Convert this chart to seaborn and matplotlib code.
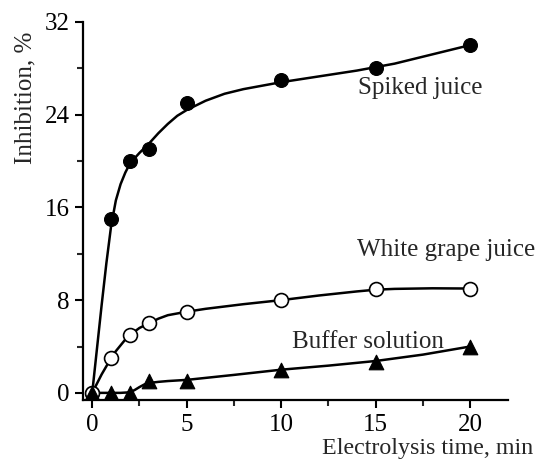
import numpy as np
import pandas as pd
import matplotlib
matplotlib.use("Agg")
import matplotlib.pyplot as plt
import seaborn as sns

sns.set_style("ticks")
plt.rcParams['font.family'] = ['Liberation Serif', 'DejaVu Serif']

# measured points
time_min = [0, 1, 2, 3, 5, 10, 15, 20]
spiked = [0, 15, 20, 21, 25, 27, 28, 30]
white = [0, 3, 5, 6, 7, 8, 9, 9]
buffer_sol = [0, 0, 0, 1, 1, 2, 2.7, 4]

# fitted curves
spiked_curve_x = [0, 0.25, 0.5, 0.75, 1, 1.25, 1.5, 1.75, 2, 2.5, 3, 3.5, 4, 4.5, 5,
                  6, 7, 8, 9, 10, 12, 14, 16, 18, 20]
spiked_curve_y = [0, 3.8, 7.6, 11.2, 14.4, 16.6, 18.0, 19.0, 19.8, 20.7, 21.5, 22.4, 23.2, 23.9, 24.4,
                  25.2, 25.8, 26.2, 26.5, 26.8, 27.3, 27.8, 28.4, 29.2, 30.0]
white_curve_x = [0, 0.25, 0.5, 0.75, 1, 1.25, 1.5, 1.75, 2, 2.5, 3, 3.5, 4, 5, 6, 8,
                 10, 12, 14, 15, 16, 18, 20]
white_curve_y = [0, 0.8, 1.6, 2.3, 3.0, 3.6, 4.1, 4.6, 5.0, 5.6, 6.0, 6.4, 6.7, 7.0, 7.25, 7.65,
                 8.0, 8.4, 8.75, 8.9, 8.97, 9.02, 9.0]
buffer_curve_x = [0, 1, 1.5, 2, 2.25, 2.5, 2.75, 3, 3.5, 4, 5, 7.5, 10, 12.5, 15, 17.5, 20]
buffer_curve_y = [0, 0, 0, 0.05, 0.25, 0.5, 0.72, 0.85, 0.95, 1.02, 1.12, 1.55, 2.0, 2.35, 2.75, 3.3, 4.0]

fig = plt.figure(figsize=(5.41, 4.66), dpi=100)
ax = fig.add_axes([0.153, 0.142, 0.786, 0.811])

for cx, cy in [(spiked_curve_x, spiked_curve_y),
               (white_curve_x, white_curve_y),
               (buffer_curve_x, buffer_curve_y)]:
    sns.lineplot(x=cx, y=cy, ax=ax, color='black', linewidth=1.8, sort=False)

sns.scatterplot(x=time_min, y=spiked, ax=ax, marker='o', s=100,
                color='black', edgecolor='black', zorder=3)
sns.scatterplot(x=time_min, y=white, ax=ax, marker='o', s=100,
                facecolor='white', edgecolor='black', linewidth=1.2, zorder=3)
sns.scatterplot(x=time_min, y=buffer_sol, ax=ax, marker='^', s=110,
                color='black', edgecolor='black', zorder=3)

ax.text(17.35, 26.3, 'Spiked juice', fontsize=18, ha='center', va='center')
ax.text(18.7, 12.3, 'White grape juice', fontsize=18, ha='center', va='center')
ax.text(14.6, 4.4, 'Buffer solution', fontsize=18, ha='center', va='center')

ax.set_xlim(-0.5, 22)
ax.set_ylim(-0.6, 32)
ax.set_xticks([0, 5, 10, 15, 20])
ax.set_xticks([2.5, 7.5, 12.5, 17.5], minor=True)
ax.set_yticks([0, 8, 16, 24, 32])
ax.set_yticks([4, 12, 20, 28], minor=True)
ax.tick_params(which='major', labelsize=18, width=1.5, length=6, direction='out', colors='black')
ax.tick_params(axis='x', which='major', pad=4)
ax.tick_params(which='minor', width=1.5, length=4, direction='out')

for s in ['left', 'bottom']:
    ax.spines[s].set_linewidth(1.6)
    ax.spines[s].set_color('black')
sns.despine(ax=ax)

ax.set_ylabel('Inhibition, %', fontsize=18)
ax.yaxis.set_label_coords(-0.11, 0.80)
ax.set_xlabel('')
fig.text(0.985, 0.038, 'Electrolysis time, min', fontsize=17.3, ha='right', va='center')

plt.savefig('out.png', dpi=100)
